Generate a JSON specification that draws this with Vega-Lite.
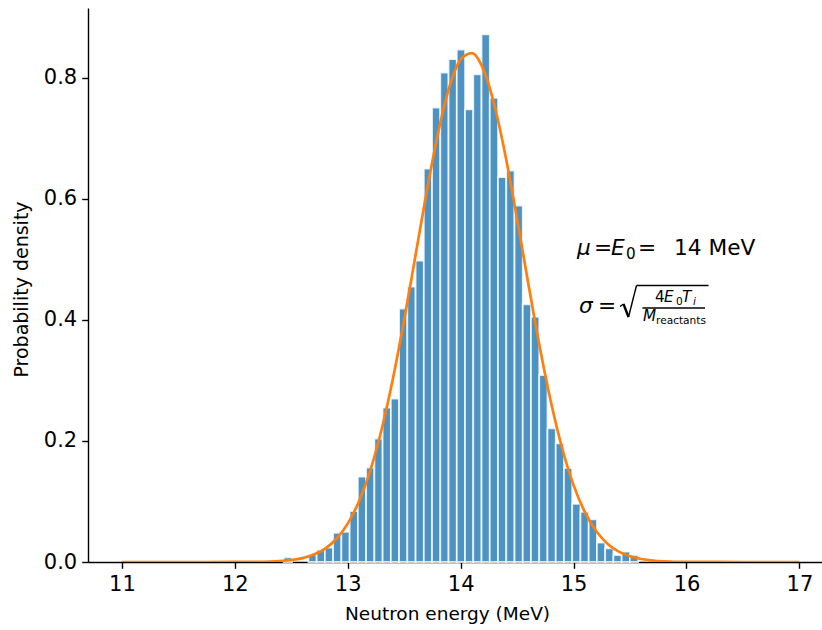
{
  "$schema": "https://vega.github.io/schema/vega-lite/v6.json",
  "width": 734,
  "height": 554,
  "autosize": {"type": "none"},
  "padding": {"left": 88, "top": 8, "right": 0, "bottom": 68},
  "background": "white",
  "config": {
    "view": {"stroke": null},
    "font": "DejaVu Sans",
    "axis": {
      "domainColor": "black", "domainWidth": 1.4, "tickColor": "black", "tickWidth": 1.4, "tickSize": 6.3,
      "labelFont": "DejaVu Sans", "titleFont": "DejaVu Sans", "labelFontSize": 21, "titleFontSize": 18.5,
      "labelColor": "black", "titleColor": "black", "titleFontWeight": "normal", "grid": false, "labelPadding": 5
    }
  },
  "datasets": {
    "hist": [
      {"start": 12.433, "end": 12.506, "density": 0.0078},
      {"start": 12.652, "end": 12.725, "density": 0.0125},
      {"start": 12.725, "end": 12.798, "density": 0.020},
      {"start": 12.798, "end": 12.871, "density": 0.024},
      {"start": 12.871, "end": 12.944, "density": 0.048},
      {"start": 12.944, "end": 13.017, "density": 0.050},
      {"start": 13.017, "end": 13.090, "density": 0.084},
      {"start": 13.090, "end": 13.163, "density": 0.141},
      {"start": 13.163, "end": 13.236, "density": 0.156},
      {"start": 13.236, "end": 13.309, "density": 0.204},
      {"start": 13.309, "end": 13.382, "density": 0.255},
      {"start": 13.382, "end": 13.455, "density": 0.270},
      {"start": 13.455, "end": 13.528, "density": 0.419},
      {"start": 13.528, "end": 13.601, "density": 0.455},
      {"start": 13.601, "end": 13.674, "density": 0.498},
      {"start": 13.674, "end": 13.747, "density": 0.650},
      {"start": 13.747, "end": 13.820, "density": 0.751},
      {"start": 13.820, "end": 13.893, "density": 0.809},
      {"start": 13.893, "end": 13.966, "density": 0.831},
      {"start": 13.966, "end": 14.039, "density": 0.847},
      {"start": 14.039, "end": 14.112, "density": 0.748},
      {"start": 14.112, "end": 14.185, "density": 0.806},
      {"start": 14.185, "end": 14.258, "density": 0.872},
      {"start": 14.258, "end": 14.331, "density": 0.767},
      {"start": 14.331, "end": 14.404, "density": 0.636},
      {"start": 14.404, "end": 14.477, "density": 0.647},
      {"start": 14.477, "end": 14.550, "density": 0.589},
      {"start": 14.550, "end": 14.623, "density": 0.426},
      {"start": 14.623, "end": 14.696, "density": 0.405},
      {"start": 14.696, "end": 14.769, "density": 0.309},
      {"start": 14.769, "end": 14.842, "density": 0.221},
      {"start": 14.842, "end": 14.915, "density": 0.196},
      {"start": 14.915, "end": 14.988, "density": 0.155},
      {"start": 14.988, "end": 15.061, "density": 0.096},
      {"start": 15.061, "end": 15.134, "density": 0.083},
      {"start": 15.134, "end": 15.207, "density": 0.0705},
      {"start": 15.207, "end": 15.280, "density": 0.032},
      {"start": 15.280, "end": 15.353, "density": 0.0226},
      {"start": 15.353, "end": 15.426, "density": 0.0116},
      {"start": 15.426, "end": 15.499, "density": 0.017},
      {"start": 15.499, "end": 15.572, "density": 0.0116}
    ],
    "fit": [
      {"energy": 11.0, "pdf": 0.0},
      {"energy": 11.5, "pdf": 0.0},
      {"energy": 12.0, "pdf": 0.00006},
      {"energy": 12.2, "pdf": 0.00033},
      {"energy": 12.4, "pdf": 0.0016},
      {"energy": 12.5, "pdf": 0.0033},
      {"energy": 12.6, "pdf": 0.0065},
      {"energy": 12.7, "pdf": 0.0123},
      {"energy": 12.8, "pdf": 0.0222},
      {"energy": 12.9, "pdf": 0.0384},
      {"energy": 13.0, "pdf": 0.0634},
      {"energy": 13.1, "pdf": 0.1002},
      {"energy": 13.2, "pdf": 0.1514},
      {"energy": 13.3, "pdf": 0.2189},
      {"energy": 13.4, "pdf": 0.3027},
      {"energy": 13.5, "pdf": 0.4003},
      {"energy": 13.6, "pdf": 0.5064},
      {"energy": 13.7, "pdf": 0.6126},
      {"energy": 13.8, "pdf": 0.7090},
      {"energy": 13.9, "pdf": 0.7847},
      {"energy": 14.0, "pdf": 0.8307},
      {"energy": 14.1, "pdf": 0.8411},
      {"energy": 14.2, "pdf": 0.8146},
      {"energy": 14.3, "pdf": 0.7545},
      {"energy": 14.4, "pdf": 0.6685},
      {"energy": 14.5, "pdf": 0.5665},
      {"energy": 14.6, "pdf": 0.4592},
      {"energy": 14.7, "pdf": 0.3559},
      {"energy": 14.8, "pdf": 0.2639},
      {"energy": 14.9, "pdf": 0.1872},
      {"energy": 15.0, "pdf": 0.1270},
      {"energy": 15.1, "pdf": 0.0824},
      {"energy": 15.2, "pdf": 0.0511},
      {"energy": 15.3, "pdf": 0.0303},
      {"energy": 15.4, "pdf": 0.0172},
      {"energy": 15.5, "pdf": 0.0094},
      {"energy": 15.6, "pdf": 0.0049},
      {"energy": 15.7, "pdf": 0.0024},
      {"energy": 15.8, "pdf": 0.00115},
      {"energy": 16.0, "pdf": 0.00023},
      {"energy": 16.5, "pdf": 0.0},
      {"energy": 17.0, "pdf": 0.0}
    ]
  },
  "layer": [
    {
      "data": {"name": "hist"},
      "mark": {"type": "bar", "fill": "#1f77b4", "fillOpacity": 0.8, "stroke": "white", "strokeOpacity": 0.8, "strokeWidth": 1.8},
      "encoding": {
        "x": {"field": "start", "type": "quantitative", "title": "Neutron energy (MeV)",
              "scale": {"domain": [10.7, 17.2], "nice": false, "zero": false},
              "axis": {"values": [11, 12, 13, 14, 15, 16, 17], "format": "d", "titlePadding": 10, "titleX": 359}},
        "x2": {"field": "end"},
        "y": {"field": "density", "type": "quantitative", "title": "Probability density",
              "scale": {"domain": [0, 0.9156], "nice": false},
              "axis": {"values": [0, 0.2, 0.4, 0.6, 0.8], "format": ".1f", "titlePadding": 12, "titleFontSize": 19, "titleY": 281}},
        "y2": {"datum": 0}
      }
    },
    {
      "data": {"name": "fit"},
      "mark": {"type": "line", "color": "#ff7f0e", "strokeWidth": 2.7, "interpolate": "monotone", "clip": true},
      "encoding": {
        "x": {"field": "energy", "type": "quantitative", "title": "Neutron energy (MeV)"},
        "y": {"field": "pdf", "type": "quantitative", "title": "Probability density"}
      }
    },
    {"data": {"values": [{}]}, "mark": {"type": "text", "text": "μ", "fontStyle": "italic", "fontSize": 21.7, "align": "left", "baseline": "alphabetic", "color": "black"},
     "encoding": {"x": {"datum": 15.030, "type": "quantitative"}, "y": {"datum": 0.5074, "type": "quantitative"}}},
    {"data": {"values": [{}]}, "mark": {"type": "text", "text": "=", "fontSize": 21.7, "align": "left", "baseline": "alphabetic", "color": "black"},
     "encoding": {"x": {"datum": 15.1809, "type": "quantitative"}, "y": {"datum": 0.5074, "type": "quantitative"}}},
    {"data": {"values": [{}]}, "mark": {"type": "text", "text": "E", "fontStyle": "italic", "fontSize": 21.7, "align": "left", "baseline": "alphabetic", "color": "black"},
     "encoding": {"x": {"datum": 15.3315, "type": "quantitative"}, "y": {"datum": 0.5074, "type": "quantitative"}}},
    {"data": {"values": [{}]}, "mark": {"type": "text", "text": "0", "fontSize": 15.2, "align": "left", "baseline": "alphabetic", "color": "black"},
     "encoding": {"x": {"datum": 15.4643, "type": "quantitative"}, "y": {"datum": 0.5008, "type": "quantitative"}}},
    {"data": {"values": [{}]}, "mark": {"type": "text", "text": "=", "fontSize": 21.7, "align": "left", "baseline": "alphabetic", "color": "black"},
     "encoding": {"x": {"datum": 15.5706, "type": "quantitative"}, "y": {"datum": 0.5074, "type": "quantitative"}}},
    {"data": {"values": [{}]}, "mark": {"type": "text", "text": "14 MeV", "fontSize": 21.7, "align": "left", "baseline": "alphabetic", "color": "black"},
     "encoding": {"x": {"datum": 15.889, "type": "quantitative"}, "y": {"datum": 0.5074, "type": "quantitative"}}},
    {"data": {"values": [{}]}, "mark": {"type": "text", "text": "σ", "fontStyle": "italic", "fontSize": 21.7, "align": "left", "baseline": "alphabetic", "color": "black"},
     "encoding": {"x": {"datum": 15.048, "type": "quantitative"}, "y": {"datum": 0.4115, "type": "quantitative"}}},
    {"data": {"values": [{}]}, "mark": {"type": "text", "text": "=", "fontSize": 21.7, "align": "left", "baseline": "alphabetic", "color": "black"},
     "encoding": {"x": {"datum": 15.2164, "type": "quantitative"}, "y": {"datum": 0.4115, "type": "quantitative"}}},
    {"data": {"values": [{}]}, "mark": {"type": "rule", "color": "black", "strokeWidth": 1.4},
     "encoding": {"x": {"datum": 15.4112, "type": "quantitative"}, "y": {"datum": 0.4223, "type": "quantitative"}, "x2": {"datum": 15.4422}, "y2": {"datum": 0.4264}}},
    {"data": {"values": [{}]}, "mark": {"type": "rule", "color": "black", "strokeWidth": 2.4},
     "encoding": {"x": {"datum": 15.4422, "type": "quantitative"}, "y": {"datum": 0.4264, "type": "quantitative"}, "x2": {"datum": 15.4865}, "y2": {"datum": 0.4049}}},
    {"data": {"values": [{}]}, "mark": {"type": "rule", "color": "black", "strokeWidth": 1.4},
     "encoding": {"x": {"datum": 15.4865, "type": "quantitative"}, "y": {"datum": 0.4049, "type": "quantitative"}, "x2": {"datum": 15.5573}, "y2": {"datum": 0.4570}}},
    {"data": {"values": [{}]}, "mark": {"type": "rule", "color": "black", "strokeWidth": 1.6},
     "encoding": {"x": {"datum": 15.5573, "type": "quantitative"}, "y": {"datum": 0.4570, "type": "quantitative"}, "x2": {"datum": 16.195}, "y2": {"datum": 0.4570}}},
    {"data": {"values": [{}]}, "mark": {"type": "rule", "color": "black", "strokeWidth": 1.6},
     "encoding": {"x": {"datum": 15.610, "type": "quantitative"}, "y": {"datum": 0.4198, "type": "quantitative"}, "x2": {"datum": 16.164}, "y2": {"datum": 0.4198}}},
    {"data": {"values": [{}]}, "mark": {"type": "text", "text": "4", "fontSize": 15.2, "align": "left", "baseline": "alphabetic", "color": "black"},
     "encoding": {"x": {"datum": 15.721, "type": "quantitative"}, "y": {"datum": 0.4297, "type": "quantitative"}}},
    {"data": {"values": [{}]}, "mark": {"type": "text", "text": "E", "fontStyle": "italic", "fontSize": 15.2, "align": "left", "baseline": "alphabetic", "color": "black"},
     "encoding": {"x": {"datum": 15.801, "type": "quantitative"}, "y": {"datum": 0.4297, "type": "quantitative"}}},
    {"data": {"values": [{}]}, "mark": {"type": "text", "text": "0", "fontSize": 10.6, "align": "left", "baseline": "alphabetic", "color": "black"},
     "encoding": {"x": {"datum": 15.907, "type": "quantitative"}, "y": {"datum": 0.4247, "type": "quantitative"}}},
    {"data": {"values": [{}]}, "mark": {"type": "text", "text": "T", "fontStyle": "italic", "fontSize": 15.2, "align": "left", "baseline": "alphabetic", "color": "black"},
     "encoding": {"x": {"datum": 15.960, "type": "quantitative"}, "y": {"datum": 0.4297, "type": "quantitative"}}},
    {"data": {"values": [{}]}, "mark": {"type": "text", "text": "i", "fontStyle": "italic", "fontSize": 10.6, "align": "left", "baseline": "alphabetic", "color": "black"},
     "encoding": {"x": {"datum": 16.0576, "type": "quantitative"}, "y": {"datum": 0.4247, "type": "quantitative"}}},
    {"data": {"values": [{}]}, "mark": {"type": "text", "text": "M", "fontStyle": "italic", "fontSize": 15.2, "align": "left", "baseline": "alphabetic", "color": "black"},
     "encoding": {"x": {"datum": 15.615, "type": "quantitative"}, "y": {"datum": 0.3983, "type": "quantitative"}}},
    {"data": {"values": [{}]}, "mark": {"type": "text", "text": "reactants", "fontSize": 10.6, "align": "left", "baseline": "alphabetic", "color": "black"},
     "encoding": {"x": {"datum": 15.730, "type": "quantitative"}, "y": {"datum": 0.3933, "type": "quantitative"}}}
  ]
}
